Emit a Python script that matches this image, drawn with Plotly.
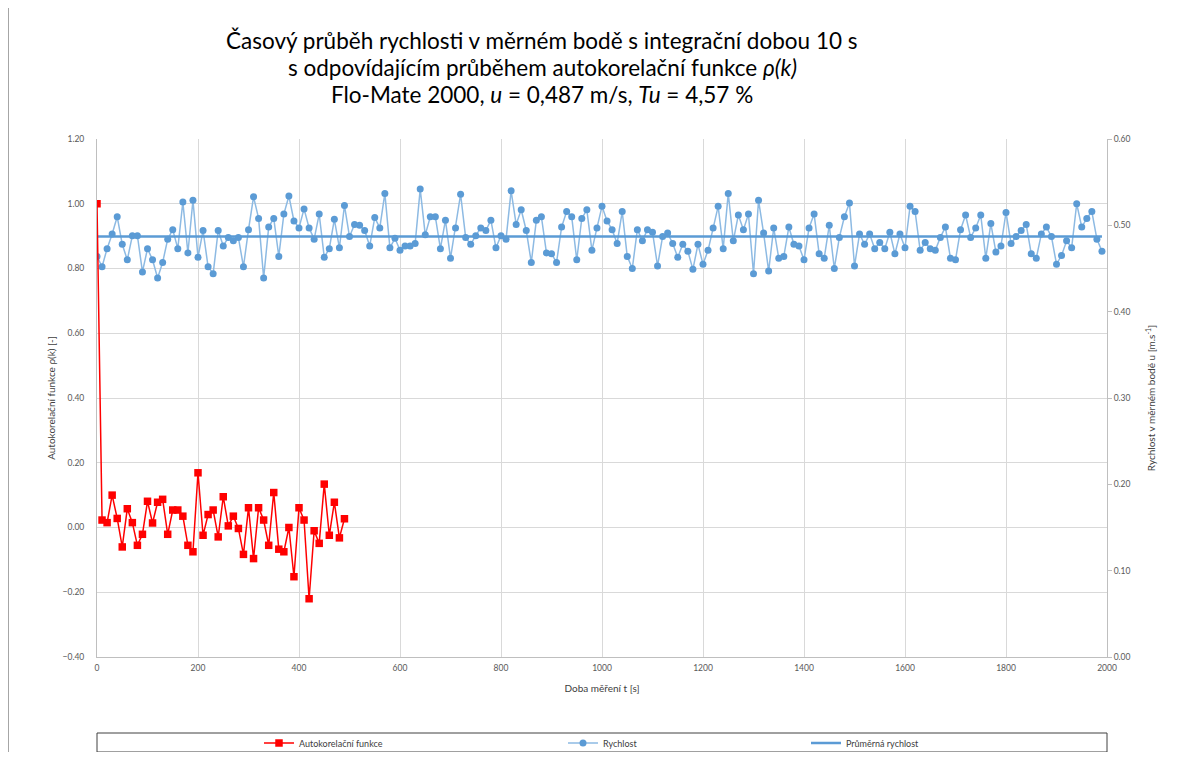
import plotly.graph_objects as go

# ---- data ----
t_speed = list(range(0, 2000, 10))
speed = [
    0.464, 0.452, 0.473, 0.490, 0.510, 0.478, 0.460, 0.488, 0.488, 0.446,
    0.473, 0.460, 0.439, 0.457, 0.484, 0.495, 0.473, 0.527, 0.468, 0.529,
    0.463, 0.494, 0.452, 0.444, 0.494, 0.476, 0.486, 0.482, 0.486, 0.452,
    0.495, 0.533, 0.508, 0.439, 0.498, 0.508, 0.464, 0.513, 0.534, 0.505,
    0.497, 0.519, 0.497, 0.484, 0.513, 0.463, 0.473, 0.507, 0.474, 0.523,
    0.487, 0.501, 0.500, 0.494, 0.476, 0.509, 0.497, 0.537, 0.474, 0.485,
    0.471, 0.476, 0.476, 0.479, 0.542, 0.489, 0.510, 0.510, 0.473, 0.506,
    0.462, 0.497, 0.536, 0.486, 0.478, 0.488, 0.497, 0.494, 0.506, 0.474,
    0.488, 0.484, 0.540, 0.501, 0.518, 0.494, 0.457, 0.506, 0.510, 0.468,
    0.467, 0.457, 0.498, 0.516, 0.510, 0.460, 0.508, 0.518, 0.471, 0.497,
    0.522, 0.505, 0.495, 0.479, 0.516, 0.464, 0.450, 0.495, 0.482, 0.495,
    0.492, 0.453, 0.487, 0.491, 0.479, 0.463, 0.478, 0.470, 0.449, 0.478,
    0.455, 0.471, 0.497, 0.522, 0.473, 0.537, 0.482, 0.512, 0.495, 0.513,
    0.444, 0.529, 0.491, 0.447, 0.497, 0.462, 0.464, 0.498, 0.478, 0.476,
    0.460, 0.497, 0.513, 0.467, 0.462, 0.500, 0.450, 0.486, 0.510, 0.526,
    0.453, 0.490, 0.478, 0.490, 0.473, 0.480, 0.473, 0.492, 0.467, 0.490,
    0.474, 0.522, 0.516, 0.471, 0.480, 0.473, 0.471, 0.486, 0.498, 0.462,
    0.460, 0.495, 0.512, 0.486, 0.497, 0.512, 0.462, 0.502, 0.469, 0.476,
    0.515, 0.479, 0.487, 0.494, 0.501, 0.467, 0.462, 0.490, 0.498, 0.487,
    0.455, 0.465, 0.482, 0.474, 0.525, 0.498, 0.508, 0.516, 0.484, 0.470,
]

t_acf = list(range(0, 500, 10))
acf = [
    1.000, 0.023, 0.015, 0.100, 0.028, -0.060, 0.058, 0.015, -0.055, -0.021,
    0.081, 0.014, 0.078, 0.087, -0.021, 0.054, 0.054, 0.035, -0.055, -0.075,
    0.169, -0.024, 0.040, 0.054, -0.029, 0.095, 0.005, 0.035, -0.003, -0.083,
    0.061, -0.096, 0.061, 0.023, -0.055, 0.108, -0.067, -0.075, 0.000, -0.152,
    0.061, 0.023, -0.220, -0.010, -0.049, 0.134, -0.024, 0.078, -0.032, 0.027,
]

t_mean = [0, 1990]
mean_speed = [0.487, 0.487]

x_ticks = list(range(0, 2001, 200))
left_ticks = [-0.4, -0.2, 0.0, 0.2, 0.4, 0.6, 0.8, 1.0, 1.2]
right_ticks = [0.0, 0.1, 0.2, 0.3, 0.4, 0.5, 0.6]

# ---- layout geometry (page pixels; the html body adds an 8px offset) ----
OFF = 8
W, H = 1183 - OFF, 765 - 2 * OFF - 5
L, R, T, B = 97, 1107, 139, 657   # plot area in page pixels
pw, ph = R - L, B - T


def px_x(x):
    return (x - L) / pw


def px_y(y):
    return (B - y) / ph


FONT = "Lato, 'Open Sans', sans-serif"
BLUE = "#5B9BD5"
RED = "#FF0000"
GRID = "#D9D9D9"
TICK = "#595959"

fig = go.Figure()

fig.add_trace(go.Scatter(
    x=t_acf, y=acf, name="Autokorelační funkce", yaxis="y2", legend="legend",
    mode="lines+markers",
    line=dict(color=RED, width=1.5),
    marker=dict(symbol="square", size=7.5, color=RED),
))
fig.add_trace(go.Scatter(
    x=t_speed, y=speed, name="Rychlost", yaxis="y", legend="legend2",
    mode="lines+markers",
    line=dict(color="#8DBAE3", width=1.5),
    marker=dict(symbol="circle", size=7, color=BLUE),
))
fig.add_trace(go.Scatter(
    x=t_mean, y=mean_speed, name="Průměrná rychlost", yaxis="y",
    legend="legend3", mode="lines",
    line=dict(color=BLUE, width=2.5),
))

shapes = [
    # legend box
    dict(type="rect", xref="paper", yref="paper",
         x0=px_x(97), x1=px_x(1107), y0=px_y(733), y1=px_y(752),
         line=dict(color="#404040", width=1), fillcolor="rgba(0,0,0,0)"),
    # outer chart frame
    dict(type="rect", xref="paper", yref="paper",
         x0=px_x(8.5), x1=px_x(1175.5), y0=px_y(800), y1=px_y(-20),
         line=dict(color="#A6A6A6", width=1), fillcolor="rgba(0,0,0,0)"),
]

title_lines = [
    ("Časový průběh rychlosti v měrném bodě s integrační dobou 10 s", 41),
    ("s odpovídajícím průběhem autokorelační funkce <i>ρ(k)</i>", 67),
    ("Flo-Mate 2000, <i>u</i> = 0,487 m/s, <i>Tu</i> = 4,57 %", 95),
]
annotations = [
    dict(text=txt, xref="paper", yref="paper", x=px_x(542), y=px_y(yc),
         xanchor="center", yanchor="middle", showarrow=False,
         font=dict(family=FONT, size=22.5, color="#000000"))
    for txt, yc in title_lines
]


def leg(text_start_px):
    return dict(
        orientation="h", x=px_x(text_start_px - 44), y=px_y(743),
        xanchor="left", yanchor="middle", itemwidth=30,
        font=dict(family=FONT, size=9, color="#404040"),
        bgcolor="rgba(0,0,0,0)",
    )


fig.update_layout(
    width=W, height=H,
    margin=dict(l=L - OFF, r=W - (R - OFF), t=T - OFF, b=H - (B - OFF),
                autoexpand=False),
    paper_bgcolor="white", plot_bgcolor="white",
    font=dict(family=FONT, color=TICK),
    showlegend=True,
    legend=leg(303),
    legend2=leg(607),
    legend3=leg(850),
    xaxis=dict(
        range=[0, 2000], tickvals=x_ticks, showgrid=True, gridcolor=GRID,
        gridwidth=1, zeroline=False, showline=True, linecolor="#BFBFBF",
        tickfont=dict(family=FONT, size=8.5, color=TICK), ticks="",
        ticklabelstandoff=3,
        title=dict(text="Doba měření t [s]", standoff=12,
                   font=dict(family=FONT, size=10, color="#404040")),
    ),
    yaxis=dict(
        range=[0, 0.6], tickvals=right_ticks, tickformat=".2f",
        side="right", showgrid=False, zeroline=False, showline=True,
        linecolor="#BFBFBF", ticks="outside", ticklen=4, tickcolor="#BFBFBF",
        tickfont=dict(family=FONT, size=8.5, color=TICK),
        title=dict(text="Rychlost v měrném bodě u [m.s<sup>-1</sup>]",
                   standoff=18,
                   font=dict(family=FONT, size=10, color="#404040")),
    ),
    yaxis2=dict(
        range=[-0.4, 1.2], tickvals=left_ticks, tickformat=".2f",
        overlaying="y", side="left", showgrid=True, gridcolor=GRID,
        zeroline=False, showline=True, linecolor="#BFBFBF", ticks="",
        tickfont=dict(family=FONT, size=8.5, color=TICK),
        ticklabelstandoff=10,
        title=dict(text="Autokorelační funkce ρ(k) [-]", standoff=5,
                   font=dict(family=FONT, size=10, color="#404040")),
    ),
    shapes=shapes,
    annotations=annotations,
)

fig.write_html("out.html")
